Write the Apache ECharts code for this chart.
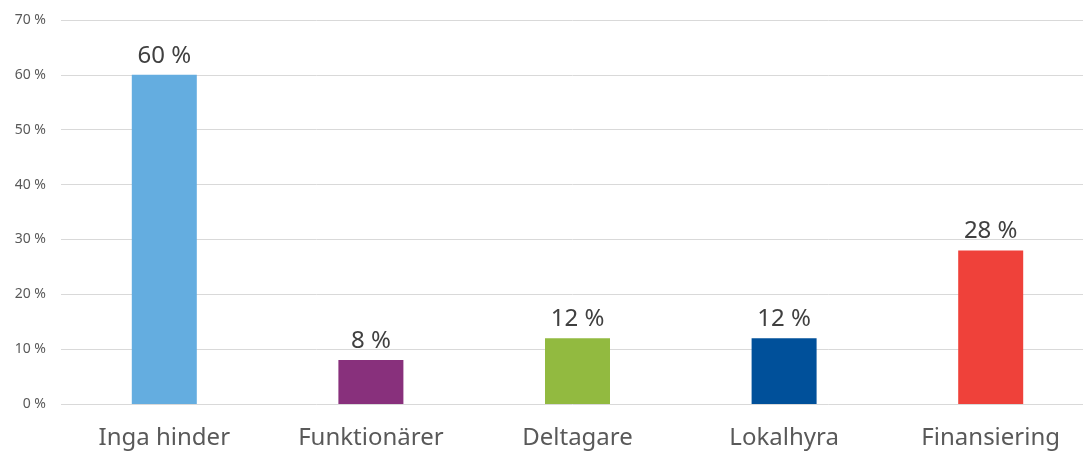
<!DOCTYPE html>
<html style="height: 100%;">
<head>
    <meta charset="UTF-8">
    <script src="https://cdn.jsdelivr.net/npm/echarts/dist/echarts.min.js"></script>
</head>
<body style="height: 100%; margin: 0; background: #fff;">
    <div id="chart" style="width: 1083px; height: 452px;"></div>
    <script type="text/javascript">
        // Data
        var categories = ['Inga hinder', 'Funktionärer', 'Deltagare', 'Lokalhyra', 'Finansiering'];
        var values = [60, 8, 12, 12, 28];
        var barColors = ['#64ADE0', '#88307C', '#92BA40', '#00509A', '#EF413A'];
        var yTicks = [0, 10, 20, 30, 40, 50, 60, 70];

        var chart = echarts.init(document.getElementById('chart'));

        var option = {
            animation: false,
            grid: {
                left: 61,
                width: 1033, // runs a little past the right edge, like the original
                top: 20,
                bottom: 48,
                outerBoundsMode: 'none'
            },
            xAxis: {
                type: 'category',
                data: categories,
                axisLine: { show: false },
                axisTick: { show: false },
                axisLabel: {
                    color: '#595959',
                    fontSize: 24,
                    fontFamily: 'Noto Sans',
                    margin: 22
                }
            },
            yAxis: {
                type: 'value',
                min: yTicks[0],
                max: yTicks[yTicks.length - 1],
                interval: 10,
                axisLine: { show: false },
                axisTick: { show: false },
                splitLine: { lineStyle: { color: '#D9D9D9', width: 1 } },
                axisLabel: {
                    formatter: '{value} %',
                    color: '#595959',
                    fontSize: 14,
                    fontFamily: 'Noto Sans',
                    margin: 15
                }
            },
            series: [{
                type: 'bar',
                barWidth: 65,
                data: values.map(function (v, i) {
                    return { value: v, itemStyle: { color: barColors[i] } };
                }),
                label: {
                    show: true,
                    position: 'top',
                    formatter: '{c} %',
                    color: '#404040',
                    fontSize: 24,
                    fontFamily: 'Noto Sans',
                    distance: 7
                }
            }]
        };

        chart.setOption(option);
        window.addEventListener('resize', chart.resize);
    </script>
</body>
</html>
